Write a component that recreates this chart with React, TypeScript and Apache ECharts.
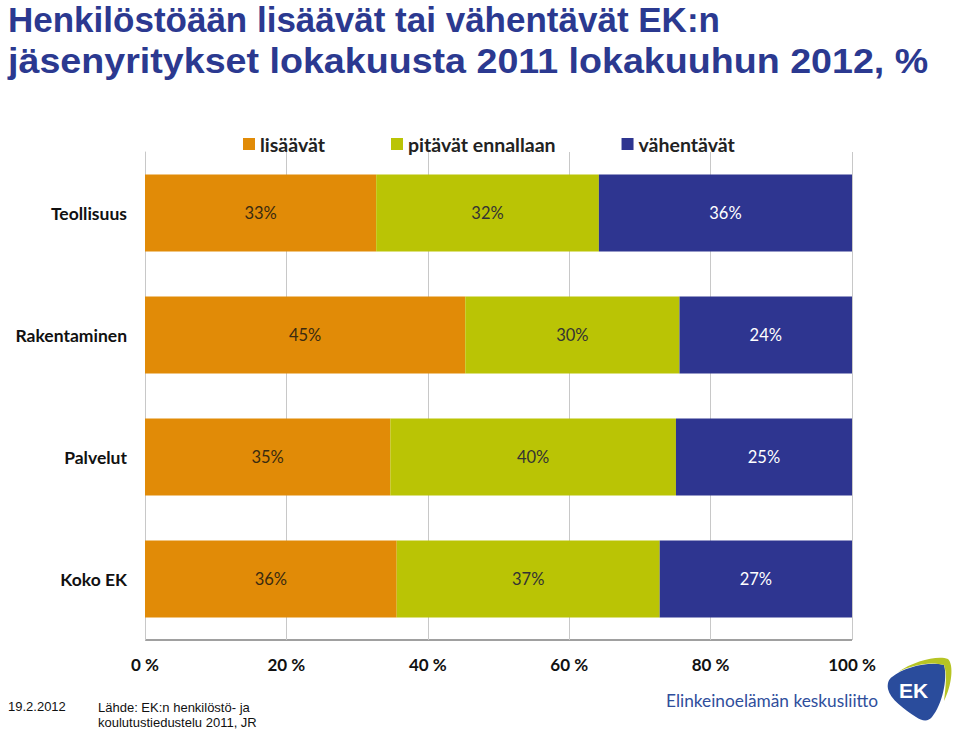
import React, { useEffect, useRef } from "react";
import * as echarts from "echarts";

const categories = ["Teollisuus", "Rakentaminen", "Palvelut", "Koko EK"];
const seriesNames = ["lisäävät", "pitävät ennallaan", "vähentävät"];
const lisaavat = [32.7, 45.3, 34.7, 35.6];
const pitavat = [31.5, 30.3, 40.4, 37.2];
const vahentavat = [35.8, 24.4, 24.9, 27.2];
const xTicks = [0, 20, 40, 60, 80, 100];
const colors = ["#E18B07", "#BAC405", "#2E3590"];

const titleLine1 = "Henkilöstöään lisäävät tai vähentävät EK:n";
const titleLine2 = "jäsenyritykset lokakuusta 2011 lokakuuhun 2012, %";

const LOGO_BLUE =
  "M6 22 C 18 12, 44 6, 58 10 C 62 24, 56 50, 46 62 C 42 67, 36 66, 30 62 C 18 54, 4 44, 2 34 C 1 28, 3 24, 6 22 Z";
const LOGO_GREEN =
  "M12 17 C 28 6, 52 0, 62 4 C 68 10, 66 30, 58 46 C 60 30, 61 18, 58 10 C 44 6, 26 10, 12 17 Z";

echarts.graphic.registerShape("ekBlue", echarts.graphic.extendPath(LOGO_BLUE, {}) as any);
echarts.graphic.registerShape("ekGreen", echarts.graphic.extendPath(LOGO_GREEN, {}) as any);

export default function App() {
  const ref = useRef<HTMLDivElement>(null);
  useEffect(() => {
    if (!ref.current) return;
    const chart = echarts.init(ref.current, null, { renderer: "svg" });
    const dataSets = [lisaavat, pitavat, vahentavat];
    const labelColors = ["#3a2a10", "#333333", "#ffffff"];
    chart.setOption({
      animation: false,
      backgroundColor: "#ffffff",
      textStyle: { fontFamily: "Lato" },
      legend: {
        top: 129,
        left: 238,
        itemWidth: 12,
        itemHeight: 12,
        itemGap: 66,
        icon: "rect",
        textStyle: { fontFamily: "Lato", fontWeight: "bold", fontSize: 19.5, color: "#222" },
        data: seriesNames,
      },
      grid: { left: 145, right: 108, top: 152, bottom: 89, containLabel: false },
      xAxis: {
        type: "value",
        min: 0,
        max: 100,
        interval: 20,
        axisLine: { show: false },
        axisTick: { show: false },
        splitLine: { show: true, lineStyle: { color: "#c8c8c8", width: 1 } },
        axisLabel: {
          formatter: (v: number) => (xTicks.includes(v) ? v + " %" : ""),
          fontFamily: "Lato",
          fontWeight: "bold",
          fontSize: 17,
          color: "#111",
          margin: 16,
        },
      },
      yAxis: {
        type: "category",
        inverse: true,
        data: categories,
        axisLine: { show: true, onZero: false, lineStyle: { color: "#c8c8c8" } },
        axisTick: { show: false },
        axisLabel: {
          fontFamily: "Lato",
          fontWeight: "bold",
          fontSize: 17.5,
          color: "#111",
          margin: 18,
        },
      },
      series: seriesNames.map((name, i) => ({
        name,
        type: "bar",
        stack: "total",
        barWidth: "63%",
        itemStyle: { color: colors[i] },
        label: {
          show: true,
          position: "inside",
          formatter: (p: any) => Math.round(p.value) + "%",
          fontFamily: "Lato",
          fontSize: 16.5,
          color: labelColors[i],
        },
        data: dataSets[i],
      })),
      graphic: [
        {
          type: "line",
          shape: { x1: 145, y1: 640, x2: 852, y2: 640 },
          style: { stroke: "#a0a0a0", lineWidth: 2 },
        },
        {
          type: "text",
          x: 8,
          y: 2,
          style: {
            text: titleLine1,
            font: "bold 35px 'Liberation Sans', Arial, sans-serif",
            fill: "#2B3990",
          },
        },
        {
          type: "text",
          x: 8,
          y: 43,
          scaleX: 1.06,
          style: {
            text: titleLine2,
            font: "bold 35.5px 'Liberation Sans', Arial, sans-serif",
            fill: "#2B3990",
          },
        },
        {
          type: "text",
          left: 8,
          top: 700,
          style: { text: "19.2.2012", font: "13px 'Liberation Sans', Arial", fill: "#111" },
        },
        {
          type: "text",
          left: 98,
          top: 700,
          style: {
            text: "Lähde: EK:n henkilöstö- ja\nkoulutustiedustelu 2011, JR",
            font: "13px 'Liberation Sans', Arial",
            lineHeight: 15,
            fill: "#111",
          },
        },
        {
          type: "text",
          left: 666,
          top: 692,
          style: { text: "Elinkeinoelämän keskusliitto", font: "17.3px 'Lato'", fill: "#2F4E9C" },
        },
        {
          type: "ekBlue",
          x: 886,
          y: 655,
          style: { fill: "#2A4C9C" },
        },
        {
          type: "ekGreen",
          x: 886,
          y: 655,
          style: { fill: "#B6C424" },
        },
        {
          type: "text",
          x: 899,
          y: 680,
          style: { text: "EK", font: "bold 21px 'Liberation Sans'", fill: "#ffffff" },
        },
      ],
    });
    return () => chart.dispose();
  }, []);
  return <div ref={ref} style={{ width: 960, height: 729, position: "absolute", left: 0, top: 0 }} />;
}
